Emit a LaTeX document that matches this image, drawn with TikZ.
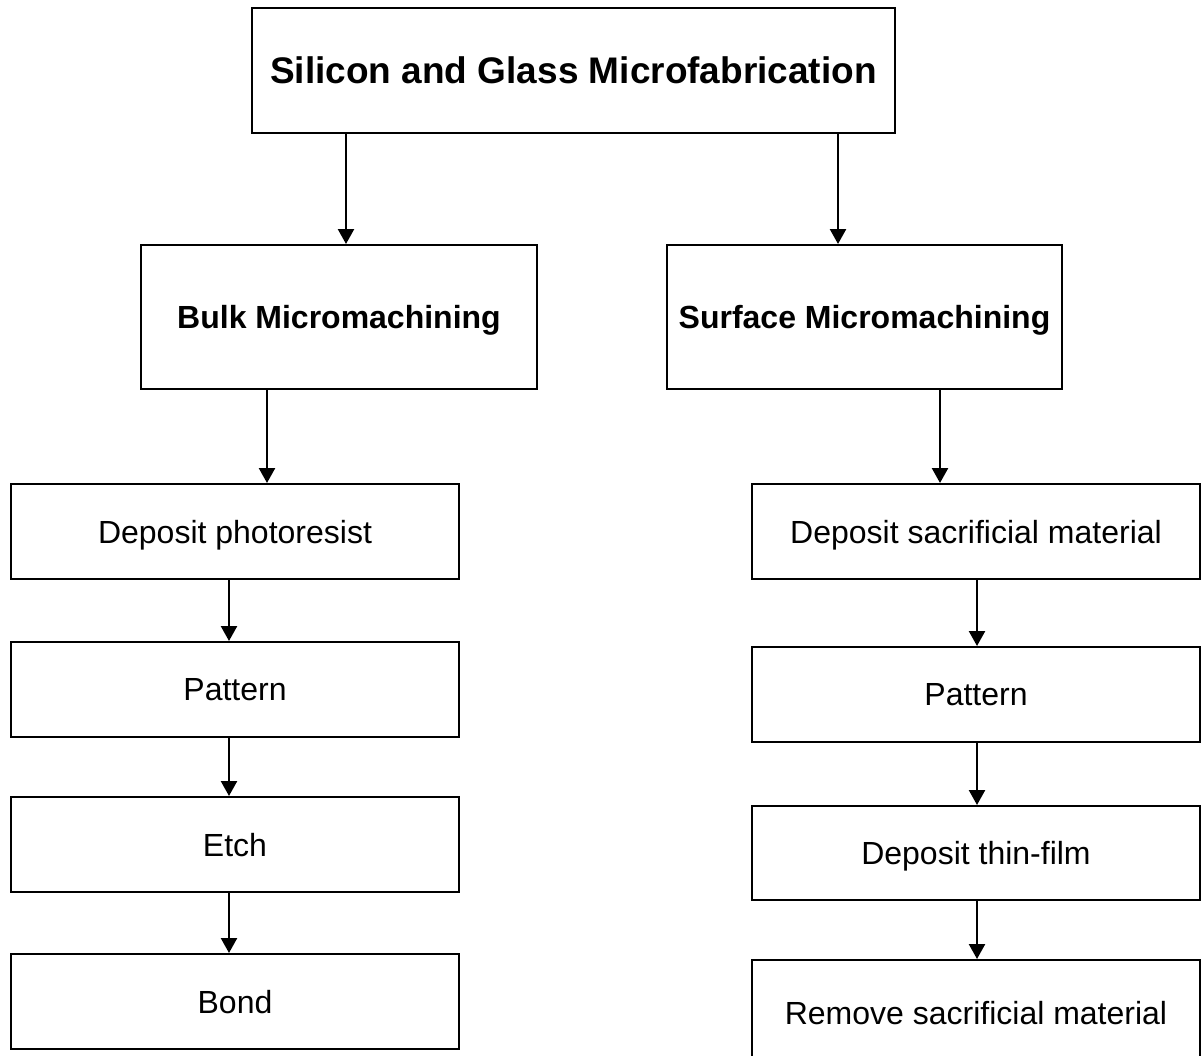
\documentclass[tikz,border=0pt]{standalone}
\usepackage{fontspec}
\setmainfont{Liberation Sans}
\usetikzlibrary{arrows.meta}

\begin{document}
\begin{tikzpicture}[x=1pt,y=-1pt,
		box/.style={draw,line width=2pt,inner sep=0pt,text depth=0pt,minimum height=95pt,font=\fontsize{32}{38}\selectfont},
		arr/.style={line width=2.4pt,-{Triangle[length=15pt,width=16pt]}}]
		\useasboundingbox (0,0) rectangle (1201,1055);
		
		\node[box,minimum width=643pt,minimum height=125pt,font=\fontsize{37}{44}\selectfont\bfseries] (title) at (573.5,70.5) {Silicon and Glass Microfabrication};
		\node[box,minimum width=396pt,minimum height=144pt,font=\fontsize{32}{38}\selectfont\bfseries] (bulk) at (339,317) {Bulk Micromachining};
		\node[box,minimum width=395pt,minimum height=144pt,font=\fontsize{32}{38}\selectfont\bfseries] (surface) at (864.5,317) {Surface Micromachining};
		
		\node[box,minimum width=448pt] (b1) at (235,531.5) {Deposit photoresist};
		\node[box,minimum width=448pt] (b2) at (235,689.5) {Pattern};
		\node[box,minimum width=448pt] (b3) at (235,844.5) {Etch};
		\node[box,minimum width=448pt] (b4) at (235,1001.5) {Bond};
		
		\node[box,minimum width=448pt] (s1) at (976,531.5) {Deposit sacrificial material};
		\node[box,minimum width=448pt] (s2) at (976,694.5) {Pattern};
		\node[box,minimum width=448pt,minimum height=94pt] (s3) at (976,853) {Deposit thin-film};
		\node[box,minimum width=448pt,minimum height=106pt] (s4) at (976,1013) {Remove sacrificial material};
		
		\coordinate (xa) at (346,0);
		\coordinate (xb) at (838,0);
		\coordinate (xc) at (267,0);
		\coordinate (xd) at (940,0);
		\coordinate (xl) at (229,0);
		\coordinate (xr) at (977,0);
		
		\draw[arr] (title.south -| xa)--(bulk.north -| xa);
		\draw[arr] (title.south -| xb)--(surface.north -| xb);
		\draw[arr] (bulk.south -| xc)--(b1.north -| xc);
		\draw[arr] (surface.south -| xd)--(s1.north -| xd);
		\draw[arr] (b1.south -| xl)--(b2.north -| xl);
		\draw[arr] (b2.south -| xl)--(b3.north -| xl);
		\draw[arr] (b3.south -| xl)--(b4.north -| xl);
		\draw[arr] (s1.south -| xr)--(s2.north -| xr);
		\draw[arr] (s2.south -| xr)--(s3.north -| xr);
		\draw[arr] (s3.south -| xr)--(s4.north -| xr);
	\end{tikzpicture}
\end{document}
